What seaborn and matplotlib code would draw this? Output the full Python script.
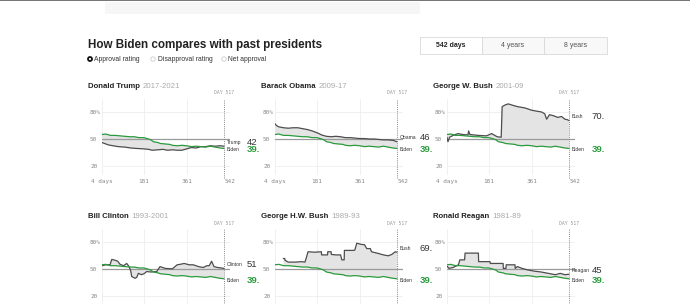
import numpy as np
import pandas as pd
import matplotlib
matplotlib.use("Agg")
import matplotlib.pyplot as plt
from matplotlib.patches import Rectangle, Circle
import seaborn as sns

# Biden approval, day of term -> %
biden_days = [4, 20, 40, 60, 80, 100, 120, 140, 160, 180, 200, 210, 220, 230, 240, 250, 270,
              290, 300, 320, 340, 360, 380, 400, 420, 440, 460, 480, 500, 517]
biden_approval = [55.0, 55.5, 54.0, 54.0, 53.5, 53.0, 52.5, 52.5, 51.5, 51.5, 50.0, 49.0, 47.0,
                  46.5, 46.0, 45.0, 44.5, 44.0, 43.0, 42.5, 43.0, 42.5, 41.5, 42.0, 41.5, 41.0,
                  42.0, 41.0, 40.0, 39.5]

trump_days = [4, 15, 30, 50, 73, 100, 125, 150, 181, 200, 215, 240, 260, 280, 300, 320, 340,
              360, 380, 400, 420, 440, 460, 480, 500, 517]
trump_approval = [46.0, 45.0, 43.5, 42.5, 41.5, 41.0, 40.0, 39.5, 39.0, 38.5, 37.5, 38.0, 38.5,
                  37.5, 38.0, 37.5, 37.5, 39.0, 40.5, 40.0, 41.5, 41.5, 42.5, 42.0, 42.5, 42.0]

obama_days = [4, 10, 20, 40, 60, 80, 100, 120, 140, 160, 185, 200, 220, 240, 260, 280, 300,
              320, 340, 360, 380, 400, 420, 440, 460, 480, 500, 517]
obama_approval = [67.0, 65.0, 63.5, 62.5, 62.0, 62.5, 62.5, 61.5, 60.5, 59.0, 56.5, 54.5, 53.0,
                  52.5, 53.0, 52.5, 51.5, 51.5, 51.0, 50.5, 50.5, 50.0, 50.0, 49.5, 49.0, 49.0,
                  48.5, 47.0]

wbush_days = [4, 8, 15, 30, 50, 70, 92, 95, 100, 136, 170, 192, 205, 215, 232, 236, 250, 262,
              280, 300, 332, 360, 380, 402, 415, 423, 435, 450, 470, 486, 500, 510, 517]
wbush_approval = [52.0, 47.0, 52.0, 54.0, 56.0, 55.0, 54.5, 59.0, 55.0, 54.0, 53.5, 56.0, 54.0,
                  52.5, 52.0, 86.0, 88.0, 89.0, 87.5, 86.0, 84.5, 82.0, 81.0, 80.0, 78.0, 72.0,
                  77.0, 76.0, 74.0, 75.0, 72.0, 71.5, 70.5]

clinton_days = [4, 20, 38, 45, 60, 70, 80, 95, 108, 118, 125, 129, 143, 150, 157, 170, 180, 192,
                210, 234, 248, 270, 300, 320, 332, 350, 370, 388, 410, 430, 445, 455, 465, 475,
                490, 505, 517]
clinton_approval = [54.0, 55.0, 55.0, 61.0, 60.0, 59.0, 55.5, 54.0, 56.5, 53.0, 48.0, 42.0, 40.0,
                    41.0, 45.5, 44.0, 45.0, 47.5, 47.0, 47.5, 53.0, 51.0, 50.5, 55.0, 55.5, 56.5,
                    55.0, 55.0, 53.0, 52.0, 54.0, 54.0, 59.0, 53.0, 52.0, 51.5, 51.0]

hwbush_days = [39, 45, 46, 60, 90, 116, 130, 137, 143, 170, 199, 200, 225, 226, 240, 241, 260,
               280, 285, 295, 296, 336, 340, 348, 370, 380, 390, 405, 410, 440, 460, 480, 495,
               510, 517]
hwbush_approval = [62.0, 62.0, 60.0, 58.0, 58.0, 58.5, 58.0, 64.0, 69.5, 69.0, 69.5, 66.0, 66.0,
                   69.5, 69.5, 66.5, 66.0, 66.0, 60.5, 60.5, 71.0, 71.0, 71.5, 79.0, 77.5, 77.5,
                   73.0, 73.0, 69.5, 67.5, 66.0, 65.0, 66.5, 69.5, 69.0]

reagan_days = [4, 12, 30, 52, 58, 78, 80, 136, 137, 185, 186, 240, 241, 252, 253, 290, 291, 300,
               320, 340, 370, 400, 430, 460, 480, 500, 517]
reagan_approval = [53.5, 51.0, 52.0, 55.0, 60.5, 60.5, 68.0, 68.0, 58.5, 58.5, 56.5, 56.5, 51.0,
                   51.0, 55.0, 55.0, 51.0, 53.0, 51.0, 49.5, 48.0, 47.0, 45.5, 44.0, 45.5, 44.0,
                   44.5]

president_names = ["Donald Trump", "Barack Obama", "George W. Bush",
                   "Bill Clinton", "George H.W. Bush", "Ronald Reagan"]
president_years = ["2017-2021", "2009-17", "2001-09", "1993-2001", "1989-93", "1981-89"]
short_names = ["Trump", "Obama", "Bush", "Clinton", "Bush", "Reagan"]
end_value_labels = ["42", "46", "70.", "51", "69.", "45"]
biden_value_label = "39."
president_days = [trump_days, obama_days, wbush_days, clinton_days, hwbush_days, reagan_days]
president_approval = [trump_approval, obama_approval, wbush_approval,
                      clinton_approval, hwbush_approval, reagan_approval]

x_ticks = [4, 181, 361, 542]
x_tick_labels = ["4 days", "181", "361", "542"]
y_ticks = [20, 50, 80]
y_tick_labels = ["20", "50", "80%"]
current_day = 517
legend_items = ["Approval rating", "Disapproval rating", "Net approval"]
range_buttons = ["542 days", "4 years", "8 years"]

GREEN = "#2a9a3c"
GRAY_LINE = "#4d4d4d"
FILL = "#e4e4e4"

sns.set_theme(style="white")
plt.rcParams['font.family'] = ['Liberation Sans', 'DejaVu Sans']
MONO = 'DejaVu Sans Mono'

W_PX, H_PX = 690, 304
fig = plt.figure(figsize=(W_PX / 100, H_PX / 100), dpi=100)
fig.patch.set_facecolor("white")

# page chrome in pixel coordinates
chrome = fig.add_axes([0, 0, 1, 1], zorder=-5)
chrome.set_xlim(0, W_PX)
chrome.set_ylim(H_PX, 0)
chrome.axis("off")
chrome.add_patch(Rectangle((0, 0), W_PX, 1.3, color="#777777", lw=0))
chrome.add_patch(Rectangle((105, 2), 315, 12, color="#f6f6f6", lw=0))

chrome.text(88, 45, "How Biden compares with past presidents", fontsize=8.4,
            weight="bold", color="#222222", va="center", ha="left")

radio_x = [90, 153, 224]
for i, (rx, lab) in enumerate(zip(radio_x, legend_items)):
    if i == 0:
        chrome.add_patch(Circle((rx, 59), 2.0, fc="white", ec="#111111", lw=1.3))
    else:
        chrome.add_patch(Circle((rx, 59), 2.2, fc="white", ec="#cccccc", lw=0.6))
    chrome.text(rx + 4.5, 59.3, lab, fontsize=4.9, color="#333333", va="center", ha="left")

btn_edges = [420, 482, 544, 607]
for i, lab in enumerate(range_buttons):
    x0, x1 = btn_edges[i], btn_edges[i + 1]
    chrome.add_patch(Rectangle((x0, 37), x1 - x0, 17, fc="white" if i == 0 else "#f8f8f8",
                               ec="#d9d9d9", lw=0.6))
    chrome.text((x0 + x1) / 2, 45.8, lab, fontsize=5.0, color="#222222" if i == 0 else "#555555",
                weight="bold" if i == 0 else "normal", ha="center", va="center")

# small multiples
col_px = [102, 275, 447]
row_top = [98.5, 228.8]
title_y = [87, 217]
AX_W, AX_H = 127.9, 76.5
YLIM = (10, 95)

bdays = np.array(biden_days)
bvals = np.array(biden_approval)

for k in range(6):
    r, c = divmod(k, 3)
    left = col_px[c]
    ax = fig.add_axes([left / W_PX, 1 - (row_top[r] + AX_H) / H_PX, AX_W / W_PX, AX_H / H_PX])
    ax.set_xlim(4, 542)
    ax.set_ylim(*YLIM)
    ax.set_facecolor("none")
    for s in ax.spines.values():
        s.set_visible(False)

    pdays = np.array(president_days[k])
    pvals = np.array(president_approval[k])

    # grid
    for gx in [4, 181, 361]:
        ax.axvline(gx, color="#eeeeee", lw=0.6, zorder=0)
    for gy in [20, 80]:
        ax.axhline(gy, color="#eeeeee", lw=0.6, zorder=0)

    # shaded gap between president and Biden
    mask = (bdays >= pdays[0]) & (bdays <= pdays[-1])
    poly_x = np.concatenate([pdays, bdays[mask][::-1]])
    poly_y = np.concatenate([pvals, bvals[mask][::-1]])
    ax.fill(poly_x, poly_y, color=FILL, lw=0, zorder=1)

    ax.axhline(50, color="#9a9a9a", lw=0.9, zorder=2)
    ax.axvline(current_day, ymin=-0.035, ymax=1.0, color="#888888", lw=0.7,
               ls=(0, (1, 1.2)), zorder=3, clip_on=False)
    ax.text(current_day, 1.04, "DAY 517", transform=ax.get_xaxis_transform(), fontsize=3.4,
            color="#999999", ha="center", va="bottom", family=MONO)

    df_p = pd.DataFrame({"day": pdays, "approval": pvals})
    df_b = pd.DataFrame({"day": bdays, "approval": bvals})
    sns.lineplot(data=df_p, x="day", y="approval", ax=ax, color=GRAY_LINE, lw=0.9,
                 estimator=None, sort=False, zorder=4)
    sns.lineplot(data=df_b, x="day", y="approval", ax=ax, color=GREEN, lw=0.9,
                 estimator=None, sort=False, zorder=5)

    # end labels
    p_end, b_end = pvals[-1], bvals[-1]
    ax.text(530, p_end + 4.6, short_names[k], fontsize=3.6, color="#333333",
            ha="left", va="center", clip_on=False)
    ax.text(613, p_end + 4.6, end_value_labels[k], fontsize=6.8, color="#333333",
            ha="left", va="center", clip_on=False)
    ax.text(530, b_end - 1.5, "Biden", fontsize=3.6, color="#333333",
            ha="left", va="center", clip_on=False)
    ax.text(613, b_end - 1.5, biden_value_label, fontsize=6.8, color=GREEN, weight="bold",
            ha="left", va="center", clip_on=False)

    # ticks (bottom row's x labels fall below the visible crop)
    ax.set_xticks(x_ticks)
    if r == 0:
        ax.set_xticklabels(x_tick_labels, family=MONO, fontsize=4.3, color="#888888")
    else:
        ax.set_xticklabels([])
    ax.set_yticks(y_ticks)
    ax.set_yticklabels(y_tick_labels, family=MONO, fontsize=4.3, color="#888888")
    ax.tick_params(axis="x", length=0, pad=2.6)
    ax.tick_params(axis="y", length=0, pad=8.6)
    for lab in ax.get_yticklabels():
        lab.set_horizontalalignment("left")
    ax.set_xlabel("")
    ax.set_ylabel("")

    # panel title
    t = chrome.text(left - 14, title_y[r], president_names[k], fontsize=5.6, weight="bold",
                    color="#222222", ha="left", va="center")
    chrome.annotate(president_years[k], xy=(1, 0.5), xycoords=t, xytext=(2, 0),
                    textcoords="offset points", fontsize=5.6, color="#aaaaaa",
                    ha="left", va="center")

fig.savefig("out.png", dpi=100)
